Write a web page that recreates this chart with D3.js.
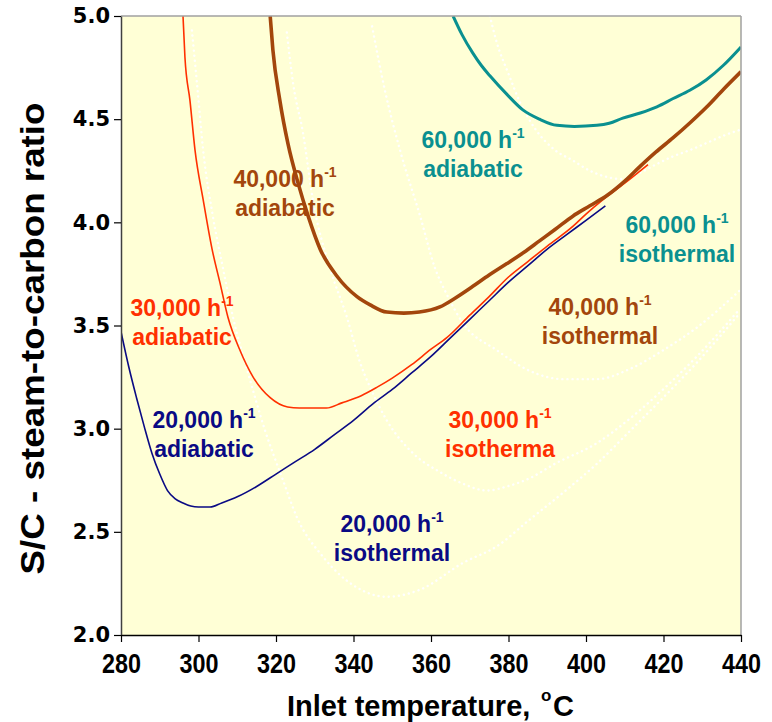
<!DOCTYPE html>
<html>
<head>
<meta charset="utf-8">
<script src="https://cdn.jsdelivr.net/npm/d3@7"></script>
<style>
  html, body { margin: 0; padding: 0; background: #ffffff; }
  svg { display: block; }
</style>
</head>
<body>
<svg id="chart" width="772" height="722"></svg>
<script>
// ---------------- DATA ----------------
const xTicks = [280, 300, 320, 340, 360, 380, 400, 420, 440];
const yTicks = [2.0, 2.5, 3.0, 3.5, 4.0, 4.5, 5.0];

// 20,000 h-1 adiabatic
const ad20T = [280, 282, 284, 286, 288, 290, 292, 294, 296, 298, 300, 303, 306, 310, 315, 320, 325, 330, 335, 340, 345, 350, 355, 360, 365, 370, 375, 380, 385, 390, 395, 400, 405];
const ad20S = [3.47, 3.30, 3.15, 3.01, 2.88, 2.78, 2.70, 2.66, 2.64, 2.625, 2.62, 2.62, 2.64, 2.67, 2.72, 2.78, 2.84, 2.90, 2.97, 3.04, 3.12, 3.19, 3.27, 3.35, 3.44, 3.53, 3.62, 3.71, 3.79, 3.87, 3.94, 4.01, 4.08];

// 30,000 h-1 adiabatic
const ad30T = [296, 296.5, 297.8, 299.1, 301.2, 303.5, 305.5, 307.6, 310.7, 314.1, 318.5, 323, 326, 330, 333, 337, 342, 346, 350, 355, 360, 364, 370, 375, 380, 385, 390, 396.6, 400, 404.4, 410, 416];
const ad30S = [5.0, 4.80, 4.59, 4.35, 4.11, 3.87, 3.71, 3.54, 3.38, 3.25, 3.15, 3.105, 3.10, 3.10, 3.10, 3.125, 3.16, 3.20, 3.245, 3.31, 3.385, 3.44, 3.55, 3.64, 3.735, 3.81, 3.885, 3.98, 4.04, 4.11, 4.19, 4.28];

// 40,000 h-1 adiabatic
const ad40T = [318.5, 319.2, 321, 323.1, 325.7, 328.3, 331.4, 335.7, 340.9, 344.3, 348.6, 353, 357, 362.3, 366, 370.8, 375, 379.6, 384, 388, 392, 396.6, 401, 405.4, 410, 413.9, 418, 422.5, 427, 431.2, 435.5, 440];
const ad40S = [5.0, 4.835, 4.59, 4.38, 4.19, 4.03, 3.87, 3.74, 3.64, 3.60, 3.565, 3.56, 3.565, 3.59, 3.63, 3.69, 3.745, 3.80, 3.855, 3.91, 3.965, 4.03, 4.08, 4.13, 4.20, 4.27, 4.34, 4.41, 4.485, 4.56, 4.645, 4.73];

// 60,000 h-1 adiabatic
const ad60T = [365.7, 368, 370.8, 373, 375.2, 379.6, 383.7, 388, 392.5, 397, 402.8, 406, 409.5, 414, 418.3, 422.5, 426.8, 431, 435.4, 440];
const ad60S = [5.0, 4.91, 4.82, 4.76, 4.71, 4.62, 4.545, 4.50, 4.47, 4.465, 4.47, 4.48, 4.505, 4.53, 4.56, 4.60, 4.64, 4.69, 4.76, 4.85];

// isothermal curves (white dotted)
const iso20T = [298.3, 299.6, 301.2, 303.7, 306.3, 308.9, 312.8, 317.2, 321.8, 325.4, 332.1, 340.9, 348.6, 357.2, 368.3, 377, 385.5, 394.1, 402.8, 411.4, 419.9, 428.6, 439.7];
const iso20S = [4.93, 4.675, 4.35, 4.03, 3.78, 3.54, 3.27, 2.99, 2.75, 2.57, 2.38, 2.23, 2.185, 2.22, 2.35, 2.43, 2.56, 2.69, 2.83, 2.99, 3.15, 3.32, 3.56];

const iso30T = [322.8, 324.4, 327, 329.5, 333.9, 338.3, 341.7, 344.3, 348.6, 355.4, 362.3, 368, 374.5, 379.6, 385.5, 392, 402.8, 411.4, 419.9, 428.6, 439.7];
const iso30S = [4.92, 4.675, 4.43, 4.11, 3.78, 3.54, 3.32, 3.20, 3.04, 2.88, 2.79, 2.735, 2.70, 2.72, 2.76, 2.83, 2.93, 3.05, 3.19, 3.35, 3.58];

const iso40T = [344.8, 348.1, 352, 357.2, 361, 364.1, 368.3, 377, 385.5, 394.1, 402.8, 411.4, 419.9, 428.6, 439.7];
const iso40S = [4.95, 4.64, 4.35, 4.03, 3.78, 3.65, 3.51, 3.38, 3.28, 3.24, 3.24, 3.29, 3.38, 3.49, 3.67];

const iso60T = [375.2, 377, 380, 383, 387, 392, 396.6, 401, 405.4, 409, 413.9, 418, 422.5, 426.8, 431.2, 435.5, 440];
const iso60S = [5.0, 4.87, 4.72, 4.58, 4.45, 4.35, 4.30, 4.25, 4.22, 4.21, 4.24, 4.28, 4.32, 4.35, 4.385, 4.42, 4.45];

// label texts
const labelRates = ["20,000 h", "30,000 h", "40,000 h", "60,000 h", "60,000 h", "40,000 h", "30,000 h", "20,000 h"];
const labelModes = ["adiabatic", "adiabatic", "adiabatic", "adiabatic", "isothermal", "isothermal", "isotherma", "isothermal"];

// ---------------- LAYOUT ----------------
(function () {
const svg = d3.select("#chart");
const pL = 121, pR = 741, pT = 16, pB = 635;

const x = d3.scaleLinear().domain([280, 440]).range([pL, pR]);
const y = d3.scaleLinear().domain([2.0, 5.0]).range([pB, pT]);

const navy = "#0a0a84", red = "#ff3000", brown = "#a3460c", teal = "#0a9090";

svg.append("rect")
  .attr("x", pL).attr("y", pT)
  .attr("width", pR - pL).attr("height", pB - pT)
  .attr("fill", "#ffffd6");

svg.append("defs").append("clipPath").attr("id", "clip")
  .append("rect").attr("x", pL).attr("y", pT)
  .attr("width", pR - pL).attr("height", pB - pT);

const plot = svg.append("g").attr("clip-path", "url(#clip)");

const line = d3.line()
  .x(d => x(d[0])).y(d => y(d[1]))
  .curve(d3.curveMonotoneX);

const zip = (a, b) => a.map((v, i) => [v, b[i]]);

[[iso20T, iso20S], [iso30T, iso30S], [iso40T, iso40S], [iso60T, iso60S]].forEach(([t, s]) => {
  plot.append("path")
    .datum(zip(t, s))
    .attr("d", line)
    .attr("fill", "none")
    .attr("stroke", "#ffffff")
    .attr("stroke-width", 2.4)
    .attr("stroke-linecap", "round")
    .attr("stroke-dasharray", "0.1,5");
});

const adi = [
  { t: ad20T, s: ad20S, c: navy, w: 1.6 },
  { t: ad30T, s: ad30S, c: red, w: 1.6 },
  { t: ad40T, s: ad40S, c: brown, w: 3.6 },
  { t: ad60T, s: ad60S, c: teal, w: 3.0 }
];
adi.forEach(a => {
  plot.append("path")
    .datum(zip(a.t, a.s))
    .attr("d", line)
    .attr("fill", "none")
    .attr("stroke", a.c)
    .attr("stroke-width", a.w)
    .attr("stroke-linejoin", "round");
});

svg.append("line").attr("x1", pL).attr("x2", pR).attr("y1", pT).attr("y2", pT)
  .attr("stroke", "#a0a0a0").attr("stroke-width", 1.5);
svg.append("line").attr("x1", pR).attr("x2", pR).attr("y1", pT).attr("y2", pB)
  .attr("stroke", "#a0a0a0").attr("stroke-width", 1.5);

const yAxis = svg.append("g").attr("transform", `translate(${pL},0)`)
  .call(d3.axisLeft(y).tickValues(yTicks).tickFormat(d3.format(".1f")).tickSize(7).tickSizeOuter(0).tickPadding(4));
yAxis.select(".domain").attr("stroke", "#404040").attr("stroke-width", 1.5);
yAxis.selectAll(".tick line").attr("stroke", "#000").attr("stroke-width", 1.2);
yAxis.selectAll(".tick text")
  .attr("font-family", "'DejaVu Sans', Verdana, sans-serif")
  .attr("font-weight", "bold").attr("font-size", 21).attr("fill", "#000");

const xAxis = svg.append("g").attr("transform", `translate(0,${pB})`)
  .call(d3.axisBottom(x).tickValues(xTicks).tickSize(7).tickSizeOuter(0).tickPadding(12));
xAxis.select(".domain").attr("stroke", "#000").attr("stroke-width", 1.5);
xAxis.selectAll(".tick line").attr("stroke", "#000").attr("stroke-width", 1.2);
xAxis.selectAll(".tick text")
  .attr("font-family", "'Liberation Sans', Arial, sans-serif")
  .attr("font-weight", "bold").attr("font-size", 27).attr("fill", "#000")
  .attr("textLength", 39).attr("lengthAdjust", "spacingAndGlyphs");

const titleFont = "'Liberation Sans', Arial, sans-serif";
svg.append("text")
  .attr("x", 287).attr("y", 716)
  .attr("font-family", titleFont)
  .attr("font-weight", "bold").attr("font-size", 29).attr("fill", "#000")
  .text("Inlet temperature,");
svg.append("text")
  .attr("x", 541).attr("y", 701)
  .attr("font-family", titleFont)
  .attr("font-weight", "bold").attr("font-size", 17).attr("fill", "#000")
  .text("o");
svg.append("text")
  .attr("x", 553).attr("y", 716)
  .attr("font-family", titleFont)
  .attr("font-weight", "bold").attr("font-size", 29).attr("fill", "#000")
  .text("C");

svg.append("text")
  .attr("transform", `translate(44,${(pT + pB) / 2 + 13}) rotate(-90)`)
  .attr("text-anchor", "middle")
  .attr("font-family", titleFont)
  .attr("font-weight", "bold").attr("font-size", 34).attr("fill", "#000")
  .attr("textLength", 472).attr("lengthAdjust", "spacingAndGlyphs")
  .text("S/C - steam-to-carbon ratio");

const labelPos = [
  { cx: 204, b1: 428, b2: 457, c: navy },
  { cx: 182, b1: 316, b2: 345, c: red },
  { cx: 285, b1: 187, b2: 216, c: brown },
  { cx: 473, b1: 148, b2: 177, c: teal },
  { cx: 677, b1: 233, b2: 262, c: teal },
  { cx: 600, b1: 315, b2: 344, c: brown },
  { cx: 500, b1: 428, b2: 457, c: red },
  { cx: 392, b1: 532, b2: 561, c: navy }
];
labelPos.forEach((p, i) => {
  const t1 = svg.append("text")
    .attr("x", p.cx).attr("y", p.b1)
    .attr("text-anchor", "middle")
    .attr("font-family", titleFont)
    .attr("font-weight", "bold").attr("font-size", 23).attr("fill", p.c);
  t1.append("tspan").text(labelRates[i]);
  t1.append("tspan").attr("dy", -10).attr("font-size", 14).text("-1");
  svg.append("text")
    .attr("x", p.cx).attr("y", p.b2)
    .attr("text-anchor", "middle")
    .attr("font-family", titleFont)
    .attr("font-weight", "bold").attr("font-size", 23).attr("fill", p.c)
    .text(labelModes[i]);
});
})();
</script>
</body>
</html>
